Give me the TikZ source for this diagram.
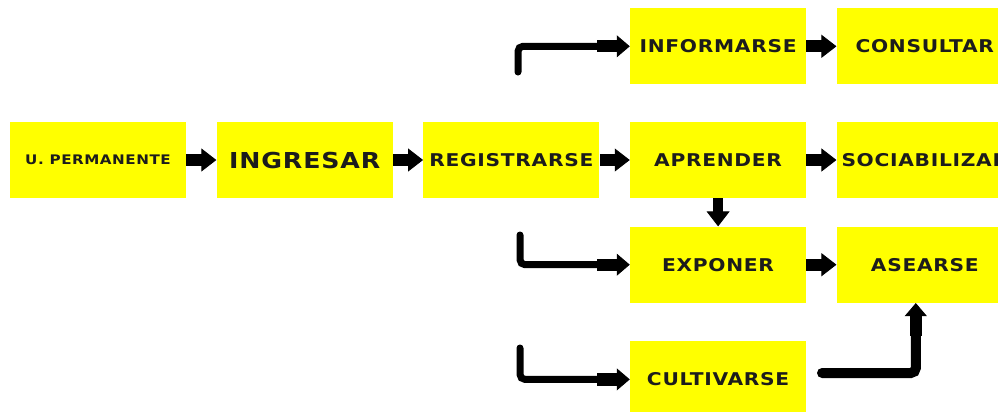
\documentclass[tikz,border=0pt]{standalone}
\usepackage{fontspec}
\usepackage{tikz}
\usetikzlibrary{arrows.meta,positioning,calc}
\newfontfamily\boxfont{DejaVu Sans}[FakeStretch=1.15,LetterSpace=4]
\definecolor{boxyellow}{HTML}{FFFF00}
\definecolor{boxtext}{HTML}{1C1C1C}

\begin{document}
\begin{tikzpicture}[node distance=0.6cm,
        block/.style={rectangle, fill=boxyellow, minimum width=3.52cm, minimum height=1.52cm, inner sep=0pt, text=boxtext, font={\boxfont\bfseries\fontsize{10}{12}\selectfont}},
        blockarrow/.style={line width=0.24cm, -{Triangle[length=0.3cm,width=0.46cm,line width=0.5pt]}},
        bentarrow/.style={line width=0.14cm, line cap=round, rounded corners=0.1cm, -{Rectangle[length=0.4cm,width=0.24cm,line width=0.5pt]Triangle[length=0.26cm,width=0.44cm,line width=0.5pt]}}]

        \useasboundingbox (0,0) rectangle (19.96,-8.22);

        % middle row
        \node[block, font={\boxfont\bfseries\fontsize{7.5}{9}\selectfont}] (perm) at (1.96,-3.2) {U. PERMANENTE};
        \node[block, right=of perm, font={\boxfont\bfseries\fontsize{12.5}{14}\selectfont}] (ingr) {INGRESAR};
        \node[block, right=of ingr] (reg) {REGISTRARSE};
        \node[block, right=of reg] (apr) {APRENDER};
        \node[block, right=of apr] (soc) {SOCIABILIZAR};

        % top and lower rows
        \node[block, above=0.74cm of apr] (info) {INFORMARSE};
        \node[block, right=of info] (cons) {CONSULTAR};
        \node[block, below=0.56cm of apr] (expo) {EXPONER};
        \node[block, right=of expo] (asea) {ASEARSE};
        \node[block, below=0.76cm of expo] (cult) {CULTIVARSE};

        % short arrows
        \draw[blockarrow] (perm) -- (ingr);
        \draw[blockarrow] (ingr) -- (reg);
        \draw[blockarrow] (reg) -- (apr);
        \draw[blockarrow] (apr) -- (soc);
        \draw[blockarrow] (info) -- (cons);
        \draw[blockarrow] (expo) -- (asea);
        \draw[blockarrow, line width=0.2cm] (apr) -- (expo);

        % bent arrows with free tails
        \coordinate (infotail) at (10.36,-1.44);
        \coordinate (expotail) at (10.4,-4.7);
        \coordinate (culttail) at (10.4,-6.96);
        \coordinate (aseatail) at (16.44,-7.46);
        \draw[bentarrow] (infotail) |- (info.west);
        \draw[bentarrow] (expotail) |- (expo.west);
        \draw[bentarrow] (culttail) |- (cult.west);
        \draw[bentarrow, line width=0.2cm] (aseatail) -| ($(asea.south)+(-0.18,0)$);

    \end{tikzpicture}
\end{document}
